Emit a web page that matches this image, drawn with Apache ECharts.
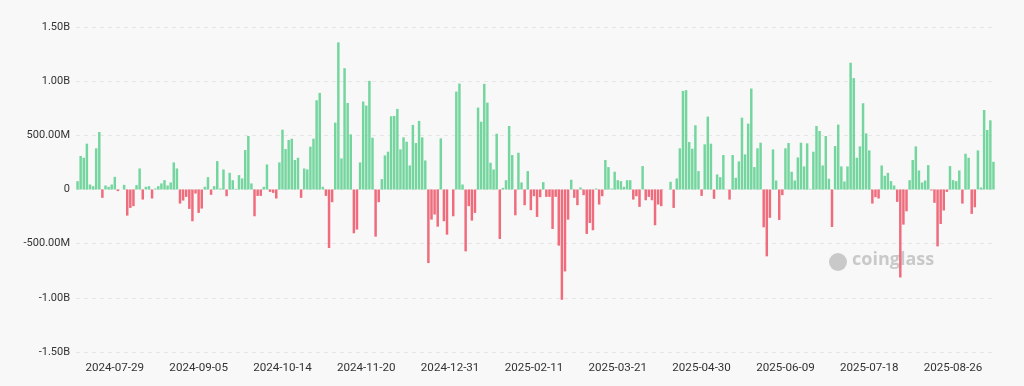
<!DOCTYPE html>
<html>
<head>
<meta charset="utf-8">
<script src="https://cdn.jsdelivr.net/npm/echarts@6/dist/echarts.min.js"></script>
<style>
html,body{margin:0;padding:0;background:#ffffff;}
#chart{width:1024px;height:386px;}
</style>
</head>
<body>
<div id="chart"></div>
<script>
// Trading-day categories
const dates = [
"2024-07-11","2024-07-12","2024-07-15","2024-07-16","2024-07-17","2024-07-18","2024-07-19","2024-07-22","2024-07-23","2024-07-24","2024-07-25","2024-07-26","2024-07-29","2024-07-30","2024-07-31",
"2024-08-01","2024-08-02","2024-08-05","2024-08-06","2024-08-07","2024-08-08","2024-08-09","2024-08-12","2024-08-13","2024-08-14","2024-08-15","2024-08-16","2024-08-19","2024-08-20","2024-08-21","2024-08-22","2024-08-23","2024-08-26","2024-08-27","2024-08-28","2024-08-29","2024-08-30",
"2024-09-03","2024-09-04","2024-09-05","2024-09-06","2024-09-09","2024-09-10","2024-09-11","2024-09-12","2024-09-13","2024-09-16","2024-09-17","2024-09-18","2024-09-19","2024-09-20","2024-09-23","2024-09-24","2024-09-25","2024-09-26","2024-09-27","2024-09-30",
"2024-10-01","2024-10-02","2024-10-03","2024-10-04","2024-10-07","2024-10-08","2024-10-09","2024-10-10","2024-10-11","2024-10-14","2024-10-15","2024-10-16","2024-10-17","2024-10-18","2024-10-21","2024-10-22","2024-10-23","2024-10-24","2024-10-25","2024-10-28","2024-10-29","2024-10-30","2024-10-31",
"2024-11-01","2024-11-04","2024-11-05","2024-11-06","2024-11-07","2024-11-08","2024-11-11","2024-11-12","2024-11-13","2024-11-14","2024-11-15","2024-11-18","2024-11-19","2024-11-20","2024-11-21","2024-11-22","2024-11-25","2024-11-26","2024-11-27","2024-11-29",
"2024-12-02","2024-12-03","2024-12-04","2024-12-05","2024-12-06","2024-12-09","2024-12-10","2024-12-11","2024-12-12","2024-12-13","2024-12-16","2024-12-17","2024-12-18","2024-12-19","2024-12-20","2024-12-23","2024-12-24","2024-12-26","2024-12-27","2024-12-30","2024-12-31",
"2025-01-02","2025-01-03","2025-01-06","2025-01-07","2025-01-08","2025-01-10","2025-01-13","2025-01-14","2025-01-15","2025-01-16","2025-01-17","2025-01-21","2025-01-22","2025-01-23","2025-01-24","2025-01-27","2025-01-28","2025-01-29","2025-01-30","2025-01-31",
"2025-02-03","2025-02-04","2025-02-05","2025-02-06","2025-02-07","2025-02-10","2025-02-11","2025-02-12","2025-02-13","2025-02-14","2025-02-18","2025-02-19","2025-02-20","2025-02-21","2025-02-24","2025-02-25","2025-02-26","2025-02-27","2025-02-28",
"2025-03-03","2025-03-04","2025-03-05","2025-03-06","2025-03-07","2025-03-10","2025-03-11","2025-03-12","2025-03-13","2025-03-14","2025-03-17","2025-03-18","2025-03-19","2025-03-20","2025-03-21","2025-03-24","2025-03-25","2025-03-26","2025-03-27","2025-03-28","2025-03-31",
"2025-04-01","2025-04-02","2025-04-03","2025-04-04","2025-04-07","2025-04-08","2025-04-09","2025-04-10","2025-04-11","2025-04-14","2025-04-15","2025-04-16","2025-04-17","2025-04-21","2025-04-22","2025-04-23","2025-04-24","2025-04-25","2025-04-28","2025-04-29","2025-04-30",
"2025-05-01","2025-05-02","2025-05-05","2025-05-06","2025-05-07","2025-05-08","2025-05-09","2025-05-12","2025-05-13","2025-05-14","2025-05-15","2025-05-16","2025-05-19","2025-05-20","2025-05-21","2025-05-22","2025-05-23","2025-05-27","2025-05-28","2025-05-29","2025-05-30",
"2025-06-02","2025-06-03","2025-06-04","2025-06-05","2025-06-06","2025-06-09","2025-06-10","2025-06-11","2025-06-12","2025-06-13","2025-06-16","2025-06-17","2025-06-18","2025-06-20","2025-06-23","2025-06-24","2025-06-25","2025-06-26","2025-06-27","2025-06-30",
"2025-07-01","2025-07-02","2025-07-03","2025-07-07","2025-07-08","2025-07-09","2025-07-10","2025-07-11","2025-07-14","2025-07-15","2025-07-16","2025-07-17","2025-07-18","2025-07-21","2025-07-22","2025-07-23","2025-07-24","2025-07-25","2025-07-28","2025-07-29","2025-07-30","2025-07-31",
"2025-08-01","2025-08-04","2025-08-05","2025-08-06","2025-08-07","2025-08-08","2025-08-11","2025-08-12","2025-08-13","2025-08-14","2025-08-15","2025-08-18","2025-08-19","2025-08-20","2025-08-21","2025-08-22","2025-08-25","2025-08-26","2025-08-27","2025-08-28","2025-08-29",
"2025-09-02","2025-09-03","2025-09-04","2025-09-05","2025-09-08","2025-09-09","2025-09-10","2025-09-11","2025-09-12","2025-09-15"
];

// Daily net flow, in millions USD
const netFlow = [
77,309,293,423,46,31,380,531,-77,37,25,46,117,-15,0,43,-241,-170,-154,40,194,-93,25,31,
-83,9,31,56,86,37,65,250,194,-130,-102,-68,-179,-293,-37,-216,-176,25,114,-49,31,262,9,185,-62,
154,86,6,133,102,364,494,56,-247,-59,-59,25,231,-22,-31,-83,250,552,373,457,469,272,293,-77,194,
185,395,469,824,892,25,-59,-540,-117,617,1358,287,1120,799,509,-404,-370,250,812,775,1003,478,-435,-117,96,
315,349,676,679,744,370,481,441,222,596,429,633,481,268,-679,-278,-231,-343,472,-293,-417,0,-247,904,978,
46,-571,-154,-287,-216,756,626,975,802,247,185,515,-457,15,86,586,318,-238,339,65,-145,170,-191,-62,-253,
-71,68,-68,-68,-364,-68,-518,-1018,-756,-278,90,-77,-145,19,-52,-410,-309,-376,9,-139,-62,272,207,9,164,86,
77,25,86,86,-93,-62,-160,216,-99,-68,-99,-330,-139,-154,0,0,71,-170,102,380,910,917,438,376,593,
170,-59,417,673,423,-86,139,114,318,0,-93,318,108,259,663,324,608,932,207,380,432,-349,-617,-262,370,
83,-281,-52,380,429,164,83,296,432,213,426,6,349,586,540,222,494,99,-346,401,599,213,74,213,1170,
1028,293,398,796,518,361,-130,-71,-83,222,127,154,77,37,-114,-812,-324,-201,86,272,398,176,65,83,225,
-9,-123,-525,-318,-194,-22,216,86,77,176,-130,330,293,-225,-164,361,19,734,549,639,256
];

const yTicks = [-1500, -1000, -500, 0, 500, 1000, 1500];
const labelDates = ["2024-07-29","2024-09-05","2024-10-14","2024-11-20","2024-12-31","2025-02-11","2025-03-21","2025-04-30","2025-06-09","2025-07-18","2025-08-26"];

const GREEN = '#74d69e';
const RED = '#ee6c7c';

function fmt(v) {
  if (v === 0) return '0';
  if (Math.abs(v) >= 1000) return (v / 1000).toFixed(2) + 'B';
  return v.toFixed(2) + 'M';
}

const chart = echarts.init(document.getElementById('chart'), null, {renderer: 'canvas'});
chart.setOption({
  backgroundColor: '#f8f8f8',
  animation: false,
  grid: {left: 76, right: 29, top: 27, bottom: 34, containLabel: false},
  xAxis: {
    type: 'category',
    data: dates,
    boundaryGap: true,
    axisLine: {show: false},
    axisTick: {show: false},
    splitLine: {show: false},
    axisLabel: {
      interval: function (i, v) { return labelDates.indexOf(v) >= 0; },
      color: '#333',
      fontSize: 11.6,
      fontFamily: 'Roboto, "Noto Sans", sans-serif',
      margin: 10
    }
  },
  yAxis: {
    type: 'value',
    min: yTicks[0],
    max: yTicks[yTicks.length - 1],
    interval: 500,
    axisLine: {show: false},
    axisTick: {show: false},
    splitLine: {show: true, lineStyle: {color: '#e6e6e6', type: [4, 4], width: 1}},
    axisLabel: {
      formatter: fmt,
      color: '#333',
      fontSize: 11,
      fontFamily: 'Roboto, "Noto Sans", sans-serif',
      margin: 6
    }
  },
  graphic: [
    {
      type: 'circle',
      shape: {cx: 838, cy: 262, r: 9},
      style: {fill: '#c9c9c9'},
      silent: true
    },
    {
      type: 'text',
      left: 852,
      top: 251,
      style: {text: 'coinglass', fill: '#c9c9c9', font: 'bold 18px "Open Sans", "Noto Sans", sans-serif'},
      silent: true
    }
  ],
  series: [{
    type: 'bar',
    data: netFlow.map(function (v) {
      return {value: v, itemStyle: {color: v >= 0 ? GREEN : RED}};
    }),
    barCategoryGap: '20%'
  }]
});
</script>
</body>
</html>
